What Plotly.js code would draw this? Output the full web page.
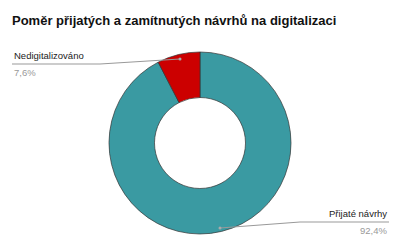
<!DOCTYPE html>
<html><head><meta charset="utf-8">
<script src="https://cdn.plot.ly/plotly-3.0.1.min.js"></script>
<style>body{margin:0;background:#fff}#c{width:400px;height:247px}</style>
</head><body><div id="c"></div>
<script>
const labels = ["Přijaté návrhy", "Nedigitalizováno"];
const values = [92.4, 7.6];
const colors = ["#3a9aa2", "#cc0000"];

const total = values.reduce((a,b)=>a+b,0);
const pct = values.map(v => (v/total*100).toFixed(1).replace('.', ',') + '%');

const W = 400, H = 247;
const px = x => x / W, py = y => 1 - y / H;
const font = 'Liberation Sans, Arial, sans-serif';

const trace = {
  type: 'pie',
  labels: labels,
  values: values,
  hole: 0.5,
  sort: false,
  direction: 'clockwise',
  rotation: 0,
  textinfo: 'none',
  hoverinfo: 'label+percent',
  marker: {colors: colors, line: {color: '#333', width: 0.7}},
  domain: {x: [px(109), px(291)], y: [py(234), py(52)]},
  showlegend: false
};

const layout = {
  width: W, height: H,
  margin: {l: 0, r: 0, t: 0, b: 0},
  paper_bgcolor: '#fff',
  title: {text: '<b>Poměr přijatých a zamítnutých návrhů na digitalizaci</b>',
          x: px(12), xanchor: 'left', y: py(20), yanchor: 'middle',
          font: {family: font, size: 13, color: '#111'}},
  annotations: [
    {text: labels[1], x: px(12), y: py(63), xref: 'paper', yref: 'paper', xanchor: 'left', yanchor: 'bottom',
     showarrow: false, font: {family: font, size: 9.5, color: '#222'}},
    {text: pct[1], x: px(12), y: py(65), xref: 'paper', yref: 'paper', xanchor: 'left', yanchor: 'top',
     showarrow: false, font: {family: font, size: 9.5, color: '#999'}},
    {text: labels[0], x: px(389), y: py(221), xref: 'paper', yref: 'paper', xanchor: 'right', yanchor: 'bottom',
     showarrow: false, font: {family: font, size: 9.5, color: '#222'}},
    {text: pct[0], x: px(389), y: py(223), xref: 'paper', yref: 'paper', xanchor: 'right', yanchor: 'top',
     showarrow: false, font: {family: font, size: 9.5, color: '#999'}}
  ],
  shapes: [
    {type: 'path', xref: 'paper', yref: 'paper',
     path: `M ${px(12)} ${py(64)} L ${px(100)} ${py(64)} L ${px(180)} ${py(59)}`,
     line: {color: '#999', width: 1}},
    {type: 'circle', xref: 'paper', yref: 'paper', x0: px(178.5), x1: px(181.5), y0: py(57.5), y1: py(60.5),
     fillcolor: '#aaa', line: {width: 0}},
    {type: 'path', xref: 'paper', yref: 'paper',
     path: `M ${px(389)} ${py(222)} L ${px(300)} ${py(222)} L ${px(220)} ${py(228)}`,
     line: {color: '#999', width: 1}},
    {type: 'circle', xref: 'paper', yref: 'paper', x0: px(218.5), x1: px(221.5), y0: py(226.5), y1: py(229.5),
     fillcolor: '#aaa', line: {width: 0}}
  ]
};

Plotly.newPlot('c', [trace], layout, {displayModeBar: false, staticPlot: true});
</script>
</body></html>
